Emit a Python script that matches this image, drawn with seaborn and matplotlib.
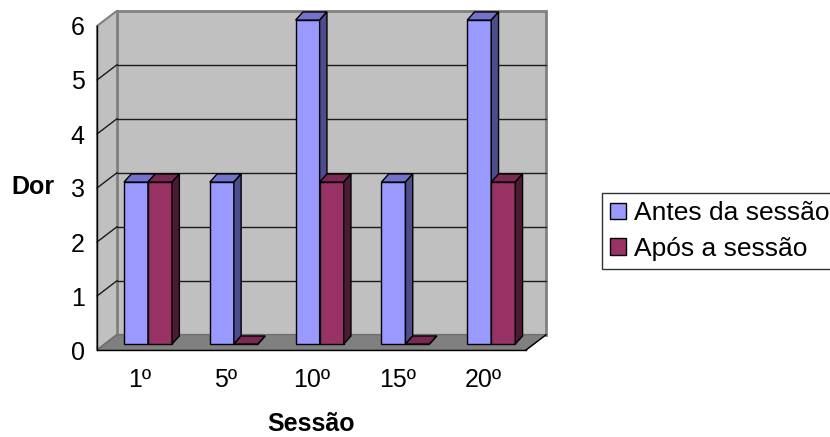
"""
Dor antes e após a sessão - gráfico de barras em estilo 3D (Excel).
"""

import pandas as pd
import matplotlib.pyplot as plt
import seaborn as sns
from matplotlib.patches import Polygon, Patch

# Dados
sessoes = ['1º', '5º', '10º', '15º', '20º']
antes = [3, 3, 6, 3, 6]
apos = [3, 0, 3, 0, 3]
series = ['Antes da sessão', 'Após a sessão']
y_ticks = [0, 1, 2, 3, 4, 5, 6]

# Cores (frente, topo, lateral)
COLORS = {
    'Antes da sessão': ('#9999ff', '#7373cc', '#4d4d8c'),
    'Após a sessão': ('#993366', '#7a2952', '#4d1a33'),
}

# Profundidade (unidades de dados)
WALL_DX, WALL_DY = 0.235, 0.285
BAR_DX, BAR_DY = 0.095, 0.11
SIDE_DX, SIDE_DY = 0.085, 0.15

df = pd.DataFrame({
    'Sessão': sessoes * 2,
    'Dor': antes + apos,
    'Série': [series[0]] * len(sessoes) + [series[1]] * len(sessoes),
})

sns.set_style('white')
plt.rcParams['font.family'] = ['Liberation Sans', 'DejaVu Sans']
plt.rcParams.update({'text.color': 'black', 'axes.labelcolor': 'black',
                     'xtick.color': 'black', 'ytick.color': 'black'})

fig = plt.figure(figsize=(8.3, 4.37), dpi=100)
ax = fig.add_axes([97 / 830, 87 / 437, 429 / 830, 324 / 437])

# Paredes e piso
x0, x1 = -0.5, len(sessoes) - 0.5
ymax = max(y_ticks)
wall = '#c0c0c0'
edge = '#808080'
ax.add_patch(Polygon([(x0 + WALL_DX, WALL_DY), (x1 + WALL_DX, WALL_DY),
                      (x1 + WALL_DX, ymax + WALL_DY), (x0 + WALL_DX, ymax + WALL_DY)],
                     closed=True, fc=wall, ec=edge, lw=2, clip_on=False, zorder=0))
ax.add_patch(Polygon([(x0, 0), (x0, ymax), (x0 + WALL_DX, ymax + WALL_DY),
                      (x0 + WALL_DX, WALL_DY)],
                     closed=True, fc=wall, ec=edge, lw=1.5, clip_on=False, zorder=0.1))
ax.add_patch(Polygon([(x0, 0), (x1, 0), (x1 + WALL_DX, WALL_DY), (x0 + WALL_DX, WALL_DY)],
                     closed=True, fc='#808080', ec='#6e6e6e', lw=1, clip_on=False, zorder=0.2))

# Linhas de grade
for v in y_ticks[1:-1]:
    ax.plot([x0 + WALL_DX, x1 + WALL_DX], [v + WALL_DY, v + WALL_DY],
            color='#1a1a1a', lw=1, clip_on=False, zorder=0.3)
    ax.plot([x0, x0 + WALL_DX], [v, v + WALL_DY],
            color='#1a1a1a', lw=1, clip_on=False, zorder=0.3)
ax.plot([x1, x1 + WALL_DX], [0, WALL_DY], color='black', lw=1, clip_on=False, zorder=0.3)

# Barras
sns.barplot(data=df, x='Sessão', y='Dor', hue='Série', order=sessoes,
            hue_order=series, width=0.56, gap=0, ax=ax, legend=False,
            edgecolor='black', linewidth=1)

for z, (name, cont) in enumerate(zip(series, ax.containers), start=2):
    front, top, side = COLORS[name]
    for bar in cont.patches:
        bx = bar.get_x() + BAR_DX
        bw = bar.get_width()
        bh = bar.get_height()
        by = BAR_DY
        bar.set_x(bx)
        bar.set_y(by)
        bar.set_facecolor(front)
        bar.set_zorder(z)
        bar.set_clip_on(False)
        ax.add_patch(Polygon([(bx, by + bh), (bx + bw, by + bh),
                              (bx + bw + SIDE_DX, by + bh + SIDE_DY),
                              (bx + SIDE_DX, by + bh + SIDE_DY)],
                             closed=True, fc=top, ec='black', lw=1, zorder=z, clip_on=False))
        ax.add_patch(Polygon([(bx + bw, by), (bx + bw, by + bh),
                              (bx + bw + SIDE_DX, by + bh + SIDE_DY),
                              (bx + bw + SIDE_DX, by + SIDE_DY)],
                             closed=True, fc=side, ec='black', lw=1, zorder=z, clip_on=False))

ax.set_xlim(x0, x1)
ax.set_ylim(0, ymax)
ax.set_yticks(y_ticks)
ax.set_xticks(range(len(sessoes)))
ax.set_xticklabels(sessoes)
ax.set_xticks([x0 + i for i in range(len(sessoes) + 1)], minor=True)
ax.tick_params(axis='x', which='major', length=0, pad=13, labelsize=18)
ax.tick_params(axis='x', which='minor', length=7, width=1, color='black')
ax.tick_params(axis='y', length=6, width=1, color='black', pad=3, labelsize=18)

for s in ['top', 'right']:
    ax.spines[s].set_visible(False)
for s in ['left', 'bottom']:
    ax.spines[s].set_color('black')
    ax.spines[s].set_linewidth(1)
    ax.spines[s].set_zorder(5)

ax.set_xlabel('Sessão', fontsize=18, fontweight='bold', va='center')
ax.xaxis.set_label_coords(0.5, -0.228)
ax.set_ylabel('Dor', fontsize=18, fontweight='bold', rotation=0, ha='right', va='center')
ax.yaxis.set_label_coords(-0.098, 0.503)

handles = [Patch(facecolor=COLORS[s][0], edgecolor='black', label=s) for s in series]
leg = fig.legend(handles=handles, loc='lower left', bbox_to_anchor=(602 / 830, 1 - 269 / 437),
                 fontsize=19, frameon=True, fancybox=False, handlelength=0.6,
                 handleheight=0.6, handletextpad=0.3, borderpad=0.3, labelspacing=0.45,
                 borderaxespad=0)
leg.get_frame().set_edgecolor('black')
leg.get_frame().set_linewidth(1)

fig.savefig('out.png', dpi=100)
